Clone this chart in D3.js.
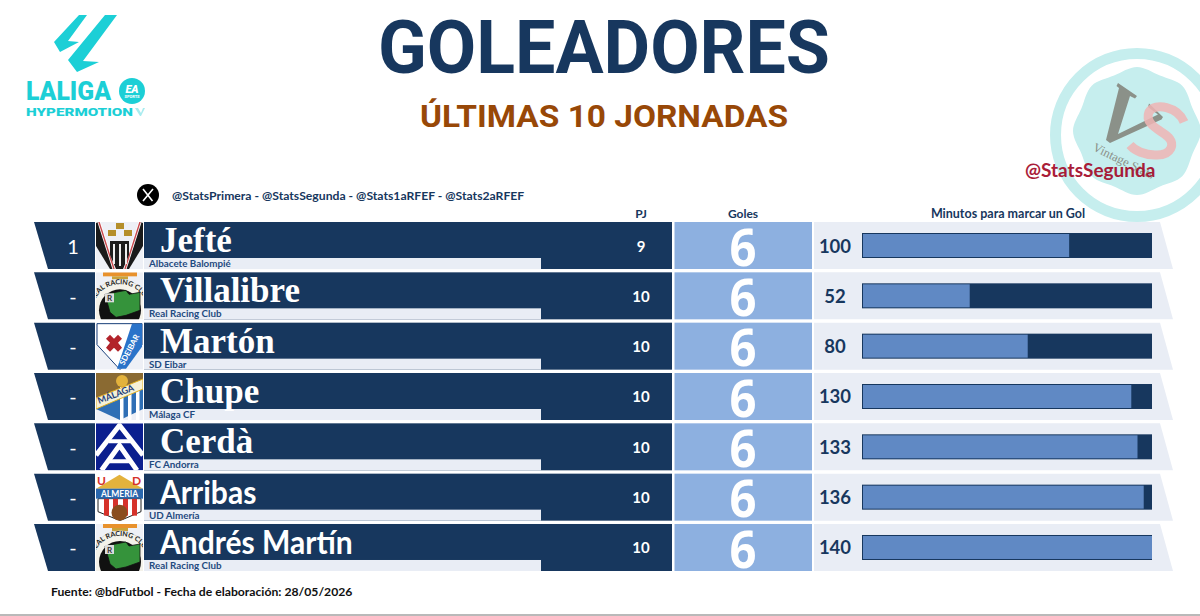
<!DOCTYPE html>
<html><head><meta charset="utf-8"><style>html,body{margin:0;background:#fff}svg{display:block}</style>
<script src="https://cdn.jsdelivr.net/npm/d3@7"></script></head><body><div id="c"></div>
<script>
const players=["Jefté","Villalibre","Martón","Chupe","Cerdà","Arribas","Andrés Martín"];
const clubs=["Albacete Balompié","Real Racing Club","SD Eibar","Málaga CF","FC Andorra","UD Almería","Real Racing Club"];
const ranks=["1","-","-","-","-","-","-"];
const played=[9,10,10,10,10,10,10];
const goals=[6,6,6,6,6,6,6];
const minutes=[100,52,80,130,133,136,140];
const crestKinds=["alb","rac","eib","mal","and","alm","rac"];
const serifNames=[true,true,true,true,true,false,false];

const W=1200,H=616,dark="#17375e",light="#e9edf5",mid="#8db0e0",barFill="#6089c4";
const svg=d3.select("#c").append("svg").attr("width",W).attr("height",H);
const sans="Lato, Carlito, sans-serif", serif="'Liberation Serif', serif";
const y=d3.scaleBand().domain(d3.range(players.length)).range([222,571]).paddingInner(0.066).paddingOuter(0).align(0);
const x=d3.scaleLinear().domain([0,140]).range([862,1152]);
const txt=(g,t,xx,yy,size,fill,weight,anchor,fam)=>g.append("text").attr("x",xx).attr("y",yy).attr("font-size",size).attr("fill",fill).attr("font-weight",weight||"bold").attr("text-anchor",anchor||"start").attr("font-family",fam||sans).text(t);

svg.append("rect").attr("x",0).attr("y",614).attr("width",W).attr("height",2).attr("fill","#b9b9b9");

// watermark (behind everything)
const wm=svg.append("g");
wm.append("circle").attr("cx",1137).attr("cy",135).attr("r",81.5).attr("fill","none").attr("stroke","#c6eeee").attr("stroke-width",11);
const blobR=[64,60,64,60,64,60,64,60,64,60,64,60,64,60,64,60];
const blob=d3.lineRadial().angle((d,i)=>i/blobR.length*2*Math.PI).radius(d=>d).curve(d3.curveCatmullRomClosed);
wm.append("path").attr("transform","translate(1137,131)").attr("fill","#c6eeee").attr("d",blob(blobR));
wm.append("path").attr("fill","#8b9189").attr("d","M1118 83L1137 96L1135 98.5L1130 96L1118 134L1158 114.5L1148 107L1149 103.5L1163 117L1161.5 119.5L1110 143L1106 140L1119 88L1116.5 86Z");
wm.append("path").attr("fill","none").attr("stroke","#efb4b4").attr("stroke-opacity",.85).attr("stroke-width",9).attr("d","M1184 122C1178 107 1155 102 1149 112C1144 124 1160 130 1167 136C1176 143 1172 156 1155 155C1145 155 1135 151 1130 145");
txt(wm,"Vintage Stats",1092,150,12.5,"#8b9189","400","start",serif).attr("transform","rotate(26 1092 150)");
txt(svg,"@StatsSegunda",1025,177,19,"#a50f2d","bold").attr("opacity",.94);

// titles
txt(svg,"GOLEADORES",604,73,74,"#17375e","bold","middle","Roboto").attr("textLength",452).attr("lengthAdjust","spacingAndGlyphs");
txt(svg,"ÚLTIMAS 10 JORNADAS",604,127,32,"#984807","bold","middle","Roboto").attr("textLength",368).attr("lengthAdjust","spacingAndGlyphs");

// league logo
const lg=svg.append("g"),teal="#1ccfd6";
lg.append("path").attr("fill",teal).attr("d","M79 15H87L68 41L79 42L60 52L54 42Z");
lg.append("path").attr("fill",teal).attr("d","M105 15H117L83 61L99 62L77 72L68 60Z");
txt(lg,"LALIGA",26,100,25,teal,"900","start","Roboto").attr("textLength",85).attr("lengthAdjust","spacingAndGlyphs");
lg.append("circle").attr("cx",132).attr("cy",91).attr("r",13).attr("fill",teal);
txt(lg,"EA",132,93,11,"#fff","900","middle","Roboto").attr("font-style","italic");
txt(lg,"SPORTS",132,98,4,"#fff","700","middle","Roboto");
txt(lg,"HYPERMOTION",26,116,11.5,teal,"900","start","Roboto").attr("textLength",107).attr("lengthAdjust","spacingAndGlyphs");
lg.append("path").attr("fill","#a8ecef").attr("d","M135 108H138L141 113L143 108H145L141 116H140Z");

// social line
svg.append("circle").attr("cx",148).attr("cy",195).attr("r",11).attr("fill","#000");
svg.append("path").attr("stroke","#fff").attr("stroke-width",1.6).attr("fill","none").attr("d","M143 189L152.5 201M153 189L143 201");
txt(svg,"@StatsPrimera - @StatsSegunda - @Stats1aRFEF - @Stats2aRFEF",172,200,12.2,dark);

// headers
txt(svg,"PJ",641,218,12,dark,"bold","middle");
txt(svg,"Goles",743,218,12,dark,"bold","middle");
txt(svg,"Minutos para marcar un Gol",1008,218,12.5,dark,"bold","middle");

// crest drawing
function crest(g,k,id){
 g.append("clipPath").attr("id","cc"+id).append("rect").attr("width",47).attr("height",47);
 const c=g.append("g").attr("clip-path",`url(#cc${id})`),P=(d,f,s,w)=>c.append("path").attr("d",d).attr("fill",f).attr("stroke",s||"none").attr("stroke-width",w||0);
 const R=(a,b,w,hh,f)=>c.append("rect").attr("x",a).attr("y",b).attr("width",w).attr("height",hh).attr("fill",f);
 const T=(t,a,b,s,f)=>c.append("text").attr("x",a).attr("y",b).attr("font-size",s).attr("font-weight","bold").attr("fill",f).attr("font-family",sans).text(t);
 R(0,0,47,47,"#eef0f6");
 if(k==="alb"){
  P("M0 1L3 0L18 47H14L0 24Z","#1a1a1a");P("M47 1L44 0L29 47H33L47 24Z","#1a1a1a");
  P("M3 0L18 47","none","#fff",3);P("M44 0L29 47","none","#fff",3);
  P("M3 0L18 47","none","#c8484c",1.4);P("M44 0L29 47","none","#c8484c",1.4);
  P("M14 19H33V33L27 47H20L14 33Z","#1c1c1c");R(17,22,2,20,"#eee");R(23,22,2,22,"#eee");R(29,22,2,20,"#eee");
  R(20,1,8,6,"#b58f2a");R(12,8,8,6,"#b58f2a");R(28,8,8,6,"#b58f2a");
 } else if(k==="rac"){
  R(7,0,34,4,"#e8912c");R(16,4,16,3,"#c9a23a");
  c.append("circle").attr("cx",24).attr("cy",36).attr("r",29).attr("fill","#f4f2ea").attr("stroke","#d9d9d9");
  c.append("circle").attr("cx",24).attr("cy",38).attr("r",21).attr("fill","#111");
  P("M9 22L30 18L33 22L44 20L44 38L30 43L20 45L14 40Z","#35933b","#111",.8);R(9,21,9,9,"#dcdcdc");
  T("R",11,29,8,"#333");
  c.append("path").attr("id","rp"+id).attr("d","M-3 37A27 25 0 0 1 51 37").attr("fill","none");
  c.append("text").attr("font-size",7).attr("font-weight","bold").attr("fill","#222").attr("font-family",sans).attr("text-anchor","middle").append("textPath").attr("href","#rp"+id).attr("startOffset","50%").text("REAL RACING CLUB");
 } else if(k==="eib"){
  P("M1 1H46V22L24 47L1 22Z","#fff","#1a3f7a",1);
  P("M36 1H46V24L30 46L21 46Z","#2a73c9");
  P("M10 16L14 12L18 16L22 12L26 16L22 20L26 25L22 29L18 25L14 29L10 25L14 20Z","#b2232a");
  c.append("text").attr("transform","translate(28 43) rotate(-62)").attr("font-size",8).attr("font-weight","bold").attr("fill","#fff").attr("font-family",sans).text("SDEIBAR");
 } else if(k==="mal"){
  P("M0 0H47V36L24 47L0 36Z","#2f6fb5");
  P("M0 0H47V12L0 26Z","#8a6a32");
  c.append("circle").attr("cx",26).attr("cy",8).attr("r",6).attr("fill","#e3b23c");
  [24,32,40].forEach(a=>R(a,14,3.5,33,"#fff"));
  P("M0 25L47 6V16L0 36Z","#f5f1d8","#e0b020",1);
  c.append("text").attr("transform","translate(3 31) rotate(-21)").attr("font-size",9).attr("font-weight","bold").attr("fill","#24407a").attr("font-family",sans).text("MÁLAGA");
 } else if(k==="and"){
  R(0,0,47,47,"#0b1f8f");
  P("M0 32L23.5 2L47 32","none","#fff",5);
  P("M5.5 47L23.5 22L41 47","none","#fff",5);
  P("M13 18H35","none","#fff",4);
  P("M12 38H36","none","#fff",4);
 } else if(k==="alm"){
  R(0,0,47,47,"#fff");
  P("M2 25V38L24 47L45 38V25Z","#fff","#222",1);
  [8,17,27,36].forEach(a=>R(a,25,5,17,"#d6322a"));
  P("M0 15L23.5 1L47 15Z","#e3b23c");
  R(0,15,47,10,"#2a67ad");
  c.append("text").attr("x",23.5).attr("y",23).attr("text-anchor","middle").attr("font-size",8.5).attr("font-weight","bold").attr("fill","#fff").attr("font-family",sans).text("ALMERIA");
  T("U",1,11,12,"#d6322a");T("D",36,11,12,"#d6322a");
  c.append("circle").attr("cx",23.5).attr("cy",39).attr("r",8).attr("fill","#8a4d1e");
 }
}

// rows
const rows=svg.selectAll("g.row").data(players).join("g").attr("class","row").attr("transform",(d,i)=>`translate(0,${y(i)})`);
const h=y.bandwidth();
rows.each(function(name,i){
 const g=d3.select(this);
 g.append("path").attr("fill",dark).attr("d",`M34 0H95V${h}H48Z`);
 txt(g,ranks[i],73,h/2+8,20,"#fff","400","middle");
 crest(g.append("g").attr("transform","translate(96,0)"),crestKinds[i],i);
 g.append("rect").attr("x",144).attr("width",528).attr("height",h).attr("fill",dark);
 g.append("rect").attr("x",144).attr("y",36).attr("width",397).attr("height",h-36).attr("fill",light);
 txt(g,clubs[i],149,h-2,9.8,"#1f4a80","bold");
 const nm=txt(g,name,160,30,serifNames[i]?35:33,"#fff","bold","start",serifNames[i]?serif:sans);
 if(!serifNames[i]) nm.attr("textLength",nm.node().getComputedTextLength()*0.91).attr("lengthAdjust","spacingAndGlyphs");
 txt(g,played[i],641,h/2+6,15,"#fff","bold","middle");
 g.append("rect").attr("x",674.5).attr("width",137.5).attr("height",h).attr("fill",mid);
 txt(g,goals[i],743,h/2+20,52,"#fff","bold","middle","'Open Sans'").attr("textLength",27).attr("lengthAdjust","spacingAndGlyphs");
 g.append("path").attr("fill",light).attr("d",`M814 0H1160L1173 ${h}H814Z`);
 txt(g,minutes[i],835,h/2+7,18.5,dark,"bold","middle");
 g.append("rect").attr("x",x(0)).attr("y",11).attr("width",x(140)-x(0)).attr("height",25).attr("fill",dark);
 g.append("rect").attr("x",x(0)+1).attr("y",12).attr("width",x(minutes[i])-x(0)-1).attr("height",23).attr("fill",barFill);
});
txt(svg,"Fuente: @bdFutbol - Fecha de elaboración: 28/05/2026",51,596,12.2,"#111","bold");
</script></body></html>
